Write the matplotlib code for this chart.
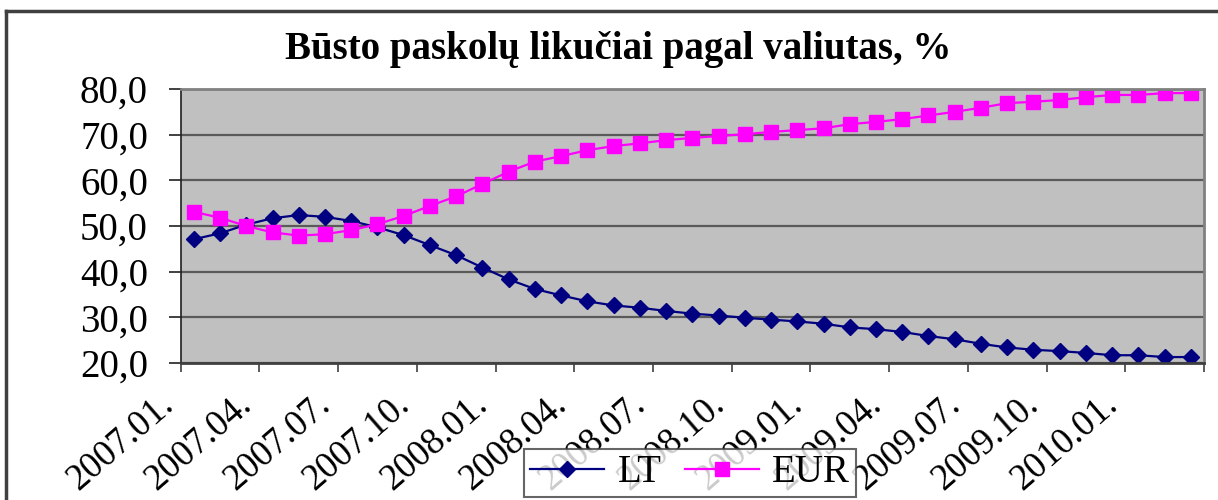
import numpy as np
import matplotlib
matplotlib.use('Agg')
import matplotlib.pyplot as plt
import matplotlib.transforms as mtransforms
from matplotlib.lines import Line2D

plt.rcParams['font.family'] = ['Liberation Serif', 'DejaVu Serif']

# monthly data 2007.01 - 2010.03
months = ['2007.01.', '2007.02.', '2007.03.', '2007.04.', '2007.05.', '2007.06.',
          '2007.07.', '2007.08.', '2007.09.', '2007.10.', '2007.11.', '2007.12.',
          '2008.01.', '2008.02.', '2008.03.', '2008.04.', '2008.05.', '2008.06.',
          '2008.07.', '2008.08.', '2008.09.', '2008.10.', '2008.11.', '2008.12.',
          '2009.01.', '2009.02.', '2009.03.', '2009.04.', '2009.05.', '2009.06.',
          '2009.07.', '2009.08.', '2009.09.', '2009.10.', '2009.11.', '2009.12.',
          '2010.01.', '2010.02.', '2010.03.']
lt = [47.1, 48.4, 50.3, 51.7, 52.4, 52.0, 51.1, 49.7, 48.0, 45.8,
      43.6, 40.9, 38.3, 36.2, 34.8, 33.5, 32.6, 32.1, 31.4, 30.8,
      30.4, 29.9, 29.5, 29.1, 28.6, 27.8, 27.4, 26.8, 25.9, 25.2,
      24.2, 23.4, 22.9, 22.6, 22.2, 21.7, 21.7, 21.3, 21.3]
eur = [53.1, 51.8, 50.0, 48.6, 47.9, 48.2, 49.1, 50.4, 52.2, 54.4,
       56.5, 59.2, 61.9, 64.1, 65.3, 66.6, 67.5, 68.1, 68.8, 69.3,
       69.7, 70.1, 70.6, 71.0, 71.4, 72.3, 72.8, 73.4, 74.2, 75.0,
       75.9, 76.9, 77.2, 77.6, 78.2, 78.7, 78.7, 79.1, 79.1]
yticks = [20, 30, 40, 50, 60, 70, 80]

fig = plt.figure(figsize=(12.18, 5.0), dpi=100)
ax = fig.add_axes([180.7 / 1218, 1 - 363 / 500, (1204 - 180.7) / 1218, 274 / 500])
ax.set_facecolor('#C0C0C0')

x = np.arange(len(months))
ax.plot(x, lt, color='#000080', lw=1.6, marker='D', ms=8.5, label='LT')
ax.plot(x, eur, color='#FF00FF', lw=1.6, marker='s', ms=9.5, label='EUR')

ax.set_xlim(-0.5, len(months) - 0.5)
ax.set_ylim(20, 80)
ax.set_yticks(yticks)
ax.set_yticklabels([f'{v:.1f}'.replace('.', ',') for v in yticks], fontsize=28)
ax.grid(axis='y', color='#5A5A5A', lw=1.6)
ax.set_axisbelow(True)

# ticks every 3 months on category boundaries, last one has no label
ticks = np.arange(-0.5, len(months), 3)
labels = [months[int(t + 0.5)] for t in ticks[:-1]] + ['']
ax.set_xticks(ticks)
ax.set_xticklabels(labels, fontsize=26.5, rotation=41, ha='right', va='baseline',
                   rotation_mode='anchor')
ax.tick_params(axis='x', length=6.5, width=1.2, color='#404040', pad=25)
ax.tick_params(axis='y', length=8.6, width=1.2, color='#202020', pad=15)
shift = mtransforms.ScaledTranslation(-6 / 100, 0, fig.dpi_scale_trans)
for lab in ax.get_xticklabels():
    lab.set_transform(lab.get_transform() + shift)

for side in ['top', 'right']:
    ax.spines[side].set_color('#808080')
    ax.spines[side].set_linewidth(2)
ax.spines['left'].set_color('#202020')
ax.spines['bottom'].set_color('#404040')
ax.spines['left'].set_linewidth(1.2)
ax.spines['bottom'].set_linewidth(2)

fig.text(618 / 1218, 0.90, 'Būsto paskolų likučiai pagal valiutas, %', ha='center', va='center',
         fontsize=28, fontweight='bold')

# chart frame
fig.add_artist(Line2D([6 / 1218, 1], [1 - 11 / 500, 1 - 11 / 500], color='#404040', lw=2.5))
fig.add_artist(Line2D([6 / 1218, 6 / 1218], [0, 1 - 11 / 500], color='#404040', lw=2.5))

leg = fig.legend(loc='center', bbox_to_anchor=(690 / 1218, 1 - 473 / 500), ncol=2,
                 fontsize=28, frameon=True, fancybox=False, edgecolor='#404040',
                 handlelength=1.9, columnspacing=0.6, handletextpad=0.35, borderpad=0.15,
                 borderaxespad=0)
leg.get_frame().set_linewidth(1.5)

fig.savefig('out.png', dpi=100)
